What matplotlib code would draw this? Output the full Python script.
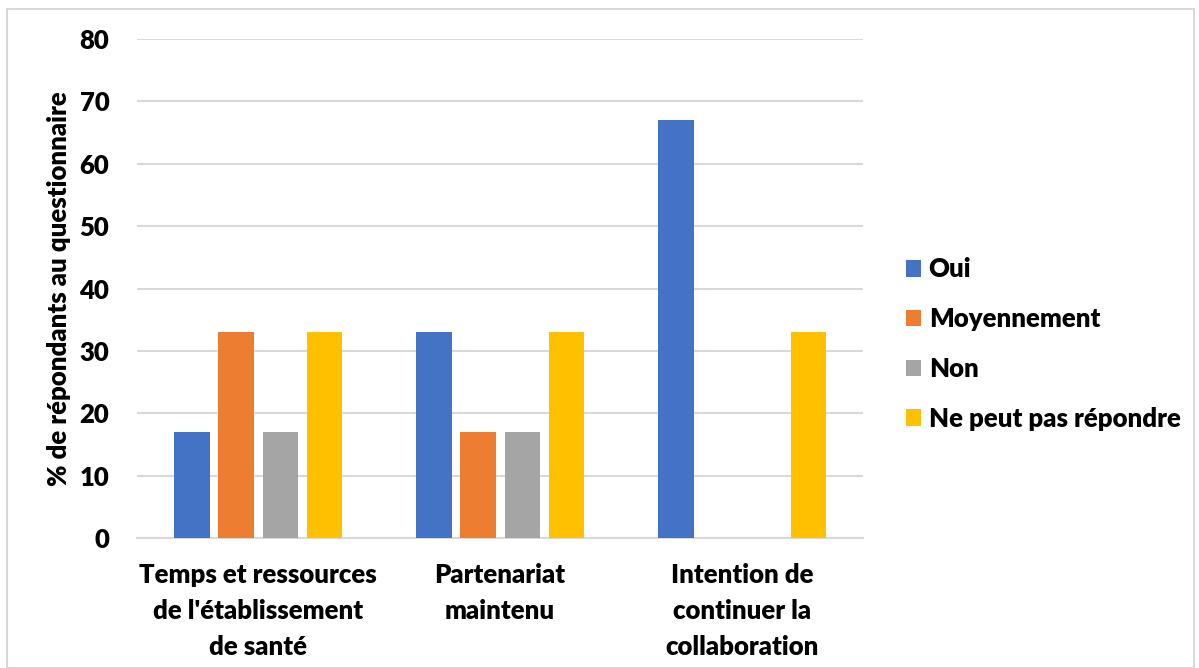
import numpy as np
import matplotlib.pyplot as plt
from matplotlib.patches import Rectangle

# ── Data ──────────────────────────────────────────────────────────────────────
categories = ["Temps et ressources\nde l'établissement\nde santé",
              "Partenariat\nmaintenu",
              "Intention de\ncontinuer la\ncollaboration"]
series = ["Oui", "Moyennement", "Non", "Ne peut pas répondre"]
oui = [17, 33, 67]
moyennement = [33, 17, 0]
non = [17, 17, 0]
ne_peut_pas = [33, 33, 33]
y_ticks = [0, 10, 20, 30, 40, 50, 60, 70, 80]

COLORS = ["#4472C4", "#ED7D31", "#A5A5A5", "#FFC000"]
FONT = ["Lato", "DejaVu Sans"]
FS = 18.5

plt.rcParams["font.family"] = FONT
plt.rcParams["font.weight"] = "heavy"

fig = plt.figure(figsize=(11.99, 6.68), dpi=100)
ax = fig.add_axes([0.1143, 0.1946, 0.6055, 0.747])

x = np.arange(len(categories))
step = 0.182
width = 0.145
values = [oui, moyennement, non, ne_peut_pas]
for i, (name, vals) in enumerate(zip(series, values)):
    ax.bar(x + (i - 1.5) * step, vals, width, color=COLORS[i], label=name,
           zorder=3)

ax.set_xlim(-0.5, len(categories) - 0.5)
ax.set_ylim(0, 80)
ax.set_yticks(y_ticks)
ax.set_xticks(x)
ax.set_xticklabels(categories, fontsize=FS, fontweight="heavy",
                   linespacing=1.6)
ax.tick_params(axis="y", labelsize=FS, length=0, pad=20)
ax.tick_params(axis="x", length=0, pad=18)
ax.grid(axis="y", color="#d9d9d9", linewidth=1.5, zorder=0)
ax.set_axisbelow(True)
for s in ["top", "right", "left"]:
    ax.spines[s].set_visible(False)
ax.spines["bottom"].set_color("#d9d9d9")
ax.spines["bottom"].set_linewidth(1.5)

ax.set_ylabel("% de répondants au questionnaire", fontsize=FS,
              fontweight="heavy", labelpad=6)

leg = fig.legend(loc="center left", bbox_to_anchor=(0.736, 0.485),
                 frameon=False, fontsize=FS, handlelength=0.6,
                 handleheight=0.6, handletextpad=0.3, labelspacing=1.0)

# Chart border
fig.patches.append(Rectangle((0.006, 0.0), 0.99, 0.987,
                             transform=fig.transFigure, fill=False,
                             edgecolor="#d9d9d9", linewidth=1.5))

fig.savefig("out.png", dpi=100)
